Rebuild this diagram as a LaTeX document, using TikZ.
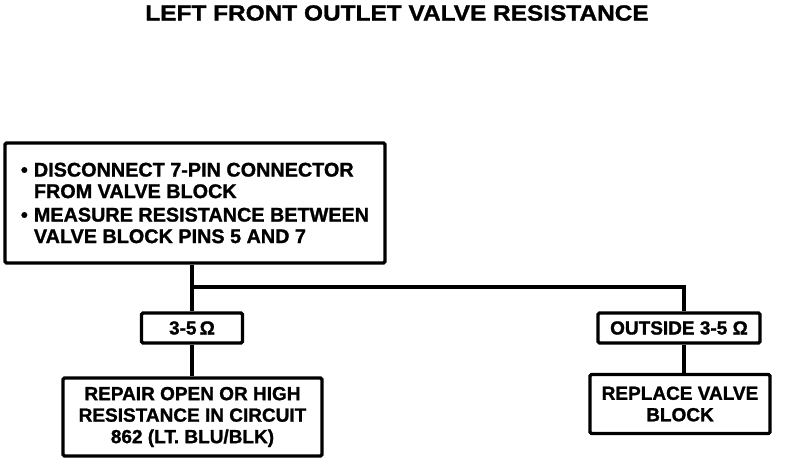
\documentclass[tikz,border=0pt]{standalone}
\usepackage{fontspec}
\setmainfont{Liberation Sans}[BoldFeatures={FakeBold=1.2}]
\usetikzlibrary{calc}
\newcommand{\bul}{\makebox[13pt][l]{•}}
\newcommand{\nobul}{\hspace*{13pt}}
\tikzset{
  box/.style={draw, line width=3.2pt, rounded corners=1.5pt, inner sep=0pt, align=center,
              font=\bfseries\fontsize{19}{21.5}\selectfont},
  wire/.style={line width=3.2pt}
}
\begin{document}
\begin{tikzpicture}[x=1pt,y=-1pt]
\useasboundingbox (0,0) rectangle (800,462);
\node[font=\bfseries\fontsize{22}{24}\selectfont] (title) at (397,13)
  {\scalebox{1.11}[1]{LEFT FRONT OUTLET VALVE RESISTANCE}};
\node[box, minimum width=380pt, minimum height=120pt, align=left,
      font=\bfseries\fontsize{19.8}{21.5}\selectfont] (top) at (195,203)
  {\bul DISCONNECT 7-PIN CONNECTOR\\
   \nobul FROM VALVE BLOCK\\[2pt]
   \bul MEASURE RESISTANCE BETWEEN\\
   \nobul VALVE BLOCK PINS 5 AND 7};
\node[box, minimum width=101pt, minimum height=30pt] (ok) at (192,328) {3-5\,Ω};
\node[box, minimum width=162pt, minimum height=30pt] (out) at (679,328) {OUTSIDE 3-5 Ω};
\node[box, minimum width=259pt, minimum height=78pt] (rep) at (192.5,417)
  {REPAIR OPEN OR HIGH\\RESISTANCE IN CIRCUIT\\862 (LT. BLU/BLK)};
\node[box, minimum width=180pt, minimum height=59pt] (repl) at (680,404)
  {REPLACE VALVE\\BLOCK};
\coordinate (br) at (192,287);
\coordinate (rx) at (684,287);
\draw[wire] (top.south -| ok.north) -- (ok.north);
\draw[wire] (br) -- (rx) -- (rx |- out.north);
\draw[wire] (ok.south) -- (ok.south |- rep.north);
\draw[wire] (rx |- out.south) -- (rx |- repl.north);
\end{tikzpicture}
\end{document}
